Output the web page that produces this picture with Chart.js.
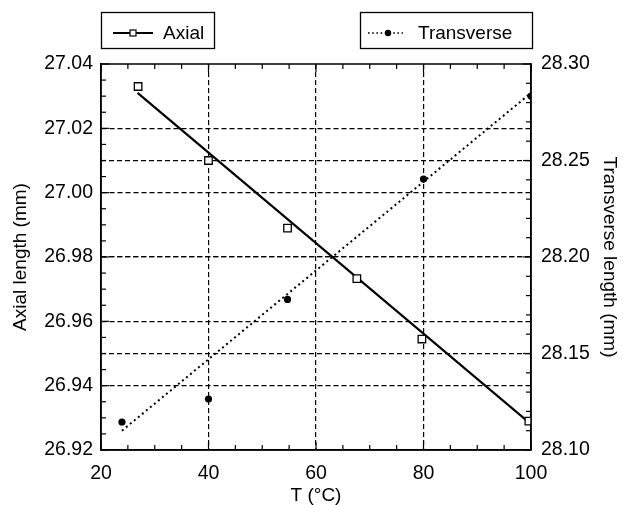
<!DOCTYPE html>
<html>
<head>
<meta charset="utf-8">
<script src="https://cdn.jsdelivr.net/npm/chart.js@4.4.1/dist/chart.umd.min.js"></script>
<style>
  html, body { margin: 0; padding: 0; background: #fff; }
  #wrap { width: 623px; height: 505px; position: relative; }
</style>
</head>
<body>
<div id="wrap"><canvas id="c" width="623" height="505"></canvas></div>
<script>
// ---- data ----
const axialT = [26.9, 40, 54.7, 67.6, 79.7, 99.6];
const axialLen = [27.033, 27.010, 26.989, 26.9733, 26.9545, 26.929];
const axialFitT = [26.8, 100];
const axialFitLen = [27.031, 26.928];

const transT = [23.9, 40, 54.7, 80, 100];
const transLen = [28.1145, 28.1264, 28.178, 28.2404, 28.2834];
const transFitT = [23.9, 100];
const transFitLen = [28.110, 28.285];

const xTicks = [20, 40, 60, 80, 100];
const yLeftTicks = [26.92, 26.94, 26.96, 26.98, 27.00, 27.02, 27.04];
const yRightTicks = [28.10, 28.15, 28.20, 28.25, 28.30];

const seriesNames = ['Axial', 'Transverse'];
const xTitle = 'T (°C)';
const yLeftTitle = 'Axial length (mm)';
const yRightTitle = 'Transverse length (mm)';

const FONT = 'Liberation Sans, Arial, Helvetica, sans-serif';
const pts = (xs, ys) => xs.map((x, i) => ({ x: x, y: ys[i] }));

function gridColor(min, max) {
  return ctx => {
    const v = ctx.tick ? ctx.tick.value : null;
    if (v === null) return '#000';
    const eps = (max - min) * 1e-4;
    return (Math.abs(v - min) < eps || Math.abs(v - max) < eps) ? 'rgba(0,0,0,0)' : '#000';
  };
}

const framePlugin = {
  id: 'frameTicks',
  afterDraw(chart) {
    const { ctx, chartArea: a, scales } = chart;
    ctx.save();
    ctx.strokeStyle = '#000';
    ctx.lineWidth = 1.5;
    ctx.setLineDash([]);
    ctx.strokeRect(a.left, a.top, a.right - a.left, a.bottom - a.top);
    ctx.lineWidth = 1.2;
    // x ticks (inward, top & bottom)
    const xs = scales.x;
    for (let v = xs.min; v <= xs.max + 1e-9; v += 5) {
      const p = xs.getPixelForValue(v);
      const L = (Math.round(v) % 20 === 0) ? 8 : 5;
      ctx.beginPath();
      ctx.moveTo(p, a.bottom); ctx.lineTo(p, a.bottom - L);
      ctx.moveTo(p, a.top); ctx.lineTo(p, a.top + L);
      ctx.stroke();
    }
    // left y ticks
    const yl = scales.y;
    for (let k = 0; k <= 24; k++) {
      const v = yl.min + k * 0.005;
      const p = yl.getPixelForValue(v);
      const L = (k % 4 === 0) ? 8 : 5;
      ctx.beginPath(); ctx.moveTo(a.left, p); ctx.lineTo(a.left + L, p); ctx.stroke();
    }
    // right y ticks
    const yr = scales.y2;
    for (let k = 0; k <= 20; k++) {
      const v = yr.min + k * 0.01;
      const p = yr.getPixelForValue(v);
      const L = (k % 5 === 0) ? 8 : 5;
      ctx.beginPath(); ctx.moveTo(a.right, p); ctx.lineTo(a.right - L, p); ctx.stroke();
    }
    // legends (two boxes)
    ctx.lineWidth = 1.3;
    ctx.font = '19px ' + FONT;
    ctx.fillStyle = '#000';
    ctx.textBaseline = 'alphabetic';
    // Axial box
    ctx.strokeRect(101.5, 12.5, 113, 36);
    ctx.lineWidth = 2;
    ctx.beginPath(); ctx.moveTo(113, 33); ctx.lineTo(153, 33); ctx.stroke();
    ctx.lineWidth = 1.2;
    ctx.fillStyle = '#fff';
    ctx.fillRect(130, 30, 6, 6);
    ctx.strokeRect(130, 30, 6, 6);
    ctx.fillStyle = '#000';
    ctx.fillText(seriesNames[0], 163, 39);
    // Transverse box
    ctx.lineWidth = 1.3;
    ctx.strokeRect(360.5, 12.5, 172, 36);
    ctx.lineWidth = 1.6;
    ctx.setLineDash([1.6, 2.6]);
    ctx.beginPath(); ctx.moveTo(368, 33); ctx.lineTo(403, 33); ctx.stroke();
    ctx.setLineDash([]);
    ctx.beginPath(); ctx.arc(388, 33, 3.2, 0, Math.PI * 2); ctx.fill();
    ctx.fillText(seriesNames[1], 418, 39);
    ctx.restore();
  }
};

const tickFont = { family: FONT, size: 19.5 };
const titleFont = { family: FONT, size: 19 };

new Chart(document.getElementById('c'), {
  type: 'scatter',
  data: {
    datasets: [
      {
        label: seriesNames[0],
        data: pts(axialT, axialLen),
        yAxisID: 'y',
        showLine: false,
        pointStyle: 'rect',
        pointRadius: 5.3,
        pointBorderWidth: 1.3,
        pointBackgroundColor: '#fff',
        pointBorderColor: '#000'
      },
      {
        label: seriesNames[1],
        data: pts(transT, transLen),
        yAxisID: 'y2',
        showLine: false,
        pointStyle: 'circle',
        pointRadius: 3.6,
        pointBorderWidth: 0,
        pointBackgroundColor: '#000',
        pointBorderColor: '#000'
      },
      {
        label: 'Axial fit',
        data: pts(axialFitT, axialFitLen),
        yAxisID: 'y',
        showLine: true,
        pointRadius: 0,
        borderColor: '#000',
        borderWidth: 2.2,
        fill: false
      },
      {
        label: 'Transverse fit',
        data: pts(transFitT, transFitLen),
        yAxisID: 'y2',
        showLine: true,
        pointRadius: 0,
        borderColor: '#000',
        borderWidth: 2,
        borderDash: [2, 3.2],
        fill: false
      }
    ]
  },
  options: {
    responsive: false,
    animation: false,
    layout: { padding: { top: 64, right: 0, left: 0, bottom: 0 } },
    plugins: { legend: { display: false }, tooltip: { enabled: false } },
    scales: {
      x: {
        type: 'linear',
        position: 'bottom',
        min: 20, max: 100,
        afterBuildTicks: s => { s.ticks = xTicks.map(v => ({ value: v })); },
        afterFit: s => { s.height = 55; },
        ticks: { font: tickFont, color: '#000', padding: 12, maxRotation: 0, callback: v => String(v) },
        grid: { color: gridColor(20, 100), lineWidth: 1.2, drawTicks: false },
        border: { display: true, color: '#000', width: 1.5, dash: [5, 3] },
        title: { display: true, text: xTitle, font: titleFont, color: '#000', padding: { top: 0, bottom: -2 } }
      },
      y: {
        type: 'linear',
        position: 'left',
        min: 26.92, max: 27.04,
        afterBuildTicks: s => { s.ticks = yLeftTicks.map(v => ({ value: v })); },
        afterFit: s => { s.width = 101; },
        ticks: { font: tickFont, color: '#000', padding: 8, callback: v => Number(v).toFixed(2) },
        grid: { color: gridColor(26.92, 27.04), lineWidth: 1.2, drawTicks: false },
        border: { display: true, color: '#000', width: 1.5, dash: [5, 3] },
        title: { display: true, text: yLeftTitle, font: titleFont, color: '#000', padding: { top: 9, bottom: 0 } }
      },
      y2: {
        type: 'linear',
        position: 'right',
        min: 28.10, max: 28.30,
        afterBuildTicks: s => { s.ticks = yRightTicks.map(v => ({ value: v })); },
        afterFit: s => { s.width = 92; },
        ticks: { font: tickFont, color: '#000', padding: 10, callback: v => Number(v).toFixed(2) },
        grid: { color: gridColor(28.10, 28.30), lineWidth: 1.2, drawTicks: false },
        border: { display: true, color: '#000', width: 1.5, dash: [5, 3] },
        title: { display: true, text: yRightTitle, font: titleFont, color: '#000', padding: { top: 2, bottom: 0 } }
      }
    }
  },
  plugins: [framePlugin]
});
</script>
</body>
</html>
